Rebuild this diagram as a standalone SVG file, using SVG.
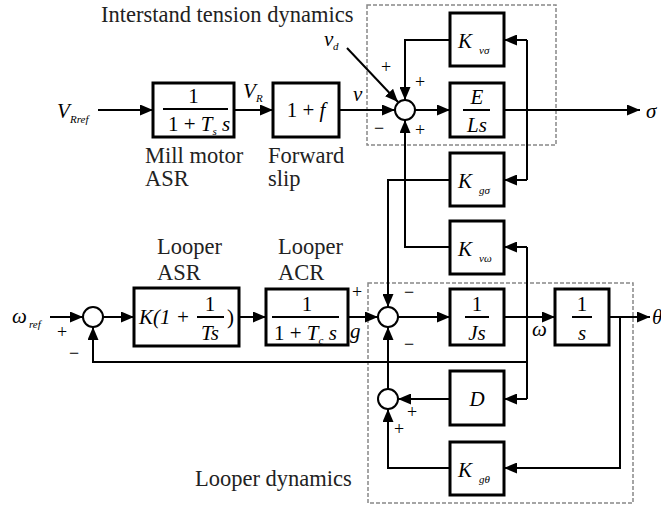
<svg xmlns="http://www.w3.org/2000/svg" width="661" height="506" viewBox="0 0 661 506">
<defs>
<marker id="ah" markerUnits="userSpaceOnUse" markerWidth="13" markerHeight="11" refX="13" refY="5.5" orient="auto"><path d="M0,0 L13,5.5 L0,11 z" fill="#000"/></marker>
<style>
.box{fill:#fff;stroke:#000;stroke-width:3}
.dash{fill:none;stroke:#888;stroke-width:1.5;stroke-dasharray:4 2}
.ln{fill:none;stroke:#000;stroke-width:2}
.ar{fill:none;stroke:#000;stroke-width:2;marker-end:url(#ah)}
.sum{fill:#fff;stroke:#000;stroke-width:2}
.lbl{font-family:"Liberation Serif","Times New Roman",serif;font-size:22.5px;fill:#222}
.m{font-family:"Liberation Serif","Times New Roman",serif;font-size:21px;font-style:italic;fill:#000}
.n{font-family:"Liberation Serif","Times New Roman",serif;font-size:21px;fill:#000}
.sub{font-family:"Liberation Serif","Times New Roman",serif;font-size:11px;font-style:italic;fill:#000}
.sg{font-family:"Liberation Serif","Times New Roman",serif;font-size:18px;fill:#000}
</style>
</defs>
<g id="regions">
<rect class="dash" x="367" y="5" width="189" height="140"/>
<rect class="dash" x="368" y="283" width="265" height="220"/>
<text class="lbl" x="101" y="22">Interstand tension dynamics</text>
<text class="lbl" x="195" y="486">Looper dynamics</text>
</g>
<g id="connectors">
<line class="ar" x1="98" y1="110" x2="153" y2="110"/>
<line class="ar" x1="234" y1="110" x2="273" y2="110"/>
<line class="ar" x1="339" y1="110" x2="395" y2="110"/>
<line class="ar" x1="347" y1="48" x2="398" y2="102"/>
<line class="ar" x1="415" y1="110" x2="450" y2="110"/>
<line class="ar" x1="504" y1="110" x2="640" y2="110"/>
<polyline class="ar" points="450,40 405,40 405,100"/>
<polyline class="ln" points="527,40 527,180"/>
<line class="ar" x1="527" y1="40" x2="504" y2="40"/>
<line class="ar" x1="527" y1="180" x2="504" y2="180"/>
<polyline class="ar" points="450,180 388,180 388,307"/>
<polyline class="ar" points="450,247 405,247 405,120"/>
<polyline class="ln" points="527,247 527,399"/>
<line class="ar" x1="527" y1="247" x2="504" y2="247"/>
<line class="ar" x1="527" y1="399" x2="504" y2="399"/>
<polyline class="ar" points="527,362 93,362 93,327"/>
<line class="ar" x1="50" y1="317" x2="83" y2="317"/>
<line class="ar" x1="103" y1="317" x2="134" y2="317"/>
<line class="ar" x1="239" y1="317" x2="266" y2="317"/>
<line class="ar" x1="348" y1="317" x2="378" y2="317"/>
<line class="ar" x1="398" y1="317" x2="450" y2="317"/>
<line class="ar" x1="504" y1="317" x2="555" y2="317"/>
<line class="ar" x1="609" y1="317" x2="650" y2="317"/>
<polyline class="ln" points="620,317 620,468 504,468"/>
<line class="ar" x1="620" y1="468" x2="504" y2="468"/>
<line class="ar" x1="450" y1="399" x2="398" y2="399"/>
<polyline class="ar" points="450,468 388,468 388,409"/>
<line class="ar" x1="388" y1="389" x2="388" y2="327"/>
</g>
<g id="sum-top"><circle class="sum" cx="405" cy="110" r="10"/>
<text class="sg" x="381" y="73">+</text><text class="sg" x="415" y="88">+</text>
<text class="sg" x="374" y="134">−</text><text class="sg" x="415" y="136">+</text></g>
<g id="sum-left"><circle class="sum" cx="93" cy="317" r="10"/>
<text class="sg" x="57" y="338">+</text><text class="sg" x="69" y="359">−</text></g>
<g id="sum-main"><circle class="sum" cx="388" cy="317" r="10"/>
<text class="sg" x="352" y="298">+</text><text class="sg" x="404" y="298">−</text><text class="sg" x="404" y="350">−</text></g>
<g id="sum-d"><circle class="sum" cx="388" cy="399" r="10"/>
<text class="sg" x="407" y="418">+</text><text class="sg" x="394" y="435">+</text></g>
<g id="signals">
<text class="m" x="57" y="118">V</text><text class="sub" x="70" y="123">Rref</text>
<text class="m" x="243" y="98">V</text><text class="sub" x="256" y="102">R</text>
<text class="m" x="353" y="101">v</text>
<text class="m" x="324" y="46" font-size="16">v</text><text class="sub" x="333" y="50">d</text>
<text class="m" x="646" y="118">σ</text>
<text class="m" x="12" y="323">ω</text><text class="sub" x="29" y="328">ref</text>
<text class="m" x="350" y="338">g</text>
<text class="m" x="532" y="336">ω</text>
<text class="m" x="652" y="324">θ</text>
</g>
<g id="mill-asr"><rect class="box" x="153" y="83" width="81" height="54"/>
<text class="n" x="193.5" y="103" text-anchor="middle">1</text>
<line class="ln" x1="163" y1="109" x2="228" y2="109"/>
<text class="n" x="168" y="131">1 + <tspan class="m">T</tspan><tspan class="sub" dy="4">s</tspan><tspan class="m" dy="-4"> s</tspan></text>
<text class="lbl" x="145" y="163">Mill motor</text><text class="lbl" x="145" y="186">ASR</text></g>
<g id="forward-slip"><rect class="box" x="273" y="83" width="66" height="54"/>
<text class="n" x="306" y="117" text-anchor="middle">1 + <tspan class="m">f</tspan></text>
<text class="lbl" x="268" y="163">Forward</text><text class="lbl" x="268" y="186">slip</text></g>
<g id="kvs"><rect class="box" x="450" y="13" width="54" height="53"/>
<text class="m" x="458" y="48" font-size="23">K</text><text class="sub" x="479" y="54">vσ</text></g>
<g id="els"><rect class="box" x="450" y="83" width="54" height="54"/>
<text class="m" x="477" y="104" text-anchor="middle">E</text>
<line class="ln" x1="463" y1="110" x2="490" y2="110"/>
<text class="m" x="477" y="132" text-anchor="middle">Ls</text></g>
<g id="kgs"><rect class="box" x="450" y="153" width="54" height="53"/>
<text class="m" x="458" y="188" font-size="23">K</text><text class="sub" x="479" y="194">gσ</text></g>
<g id="kvw"><rect class="box" x="450" y="221" width="54" height="53"/>
<text class="m" x="458" y="256" font-size="23">K</text><text class="sub" x="479" y="262">vω</text></g>
<g id="looper-asr"><rect class="box" x="134" y="288" width="105" height="58"/>
<text class="m" x="139" y="324">K<tspan class="n">(1 +</tspan></text>
<text class="n" x="210" y="311" text-anchor="middle">1</text>
<line class="ln" x1="197" y1="317" x2="224" y2="317"/>
<text class="m" x="210" y="340" text-anchor="middle">Ts</text>
<text class="n" x="227" y="324">)</text>
<text class="lbl" x="157" y="254">Looper</text><text class="lbl" x="157" y="280">ASR</text></g>
<g id="looper-acr"><rect class="box" x="266" y="289" width="82" height="56"/>
<text class="n" x="307" y="311" text-anchor="middle">1</text>
<line class="ln" x1="272" y1="317" x2="339" y2="317"/>
<text class="n" x="274" y="340">1 + <tspan class="m">T</tspan><tspan class="sub" dy="4">c</tspan><tspan class="m" dy="-4"> s</tspan></text>
<text class="lbl" x="278" y="254">Looper</text><text class="lbl" x="278" y="280">ACR</text></g>
<g id="js"><rect class="box" x="450" y="289" width="54" height="56"/>
<text class="n" x="477" y="311" text-anchor="middle">1</text>
<line class="ln" x1="465" y1="317" x2="489" y2="317"/>
<text class="m" x="477" y="340" text-anchor="middle">Js</text></g>
<g id="integ"><rect class="box" x="555" y="289" width="54" height="56"/>
<text class="n" x="582" y="311" text-anchor="middle">1</text>
<line class="ln" x1="572" y1="317" x2="592" y2="317"/>
<text class="m" x="582" y="340" text-anchor="middle">s</text></g>
<g id="d"><rect class="box" x="450" y="371" width="54" height="54"/>
<text class="m" x="477" y="406" text-anchor="middle">D</text></g>
<g id="kgt"><rect class="box" x="450" y="442" width="54" height="53"/>
<text class="m" x="458" y="477" font-size="23">K</text><text class="sub" x="479" y="483">gθ</text></g>
</svg>
